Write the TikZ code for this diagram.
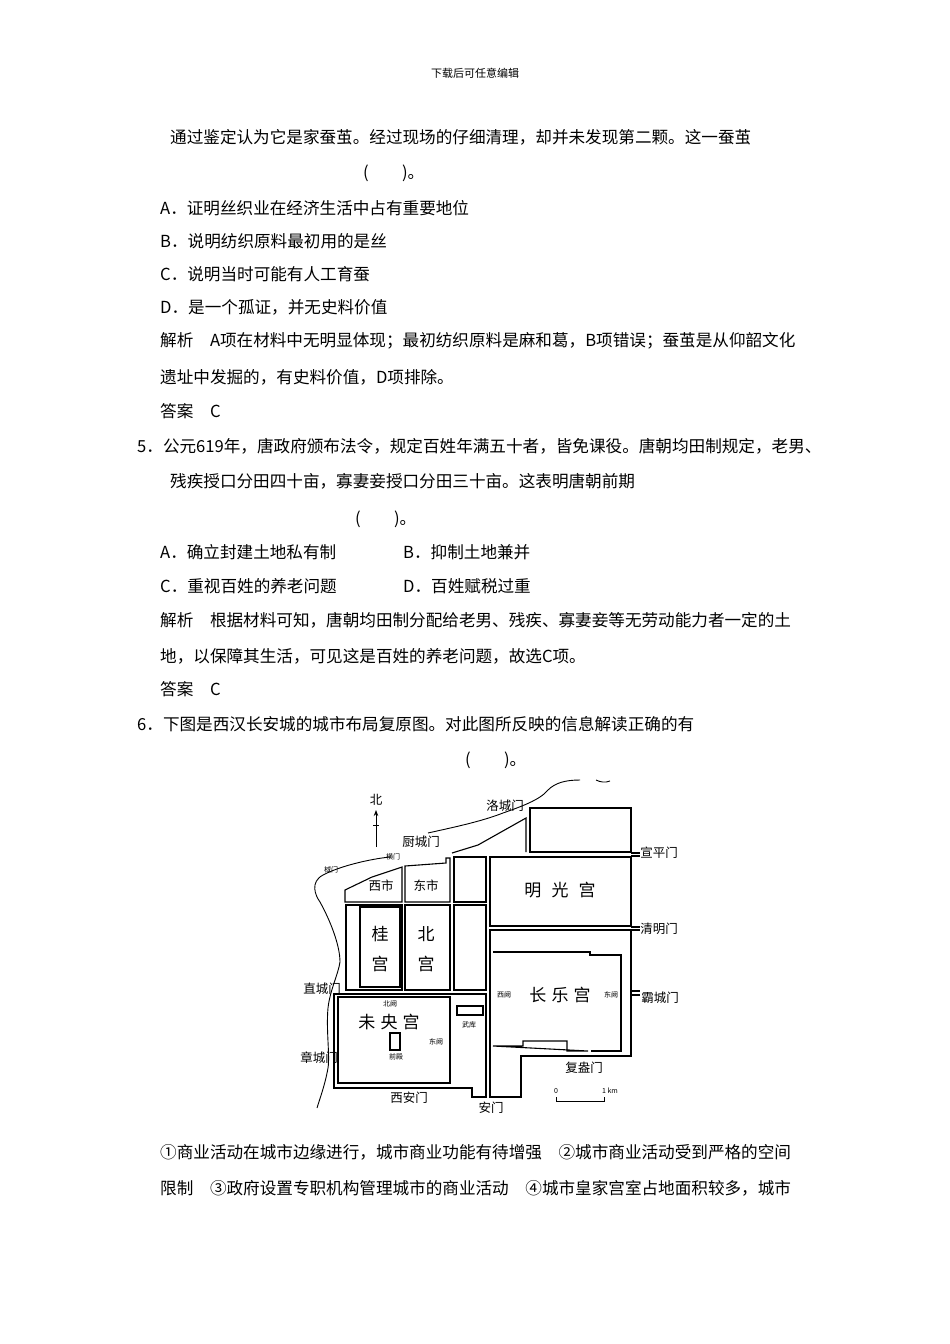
\documentclass[tikz,border=0pt]{standalone}
\usepackage{fontspec}
\usetikzlibrary{arrows.meta}
\setmainfont{Noto Sans CJK SC}
\begin{document}
\begin{tikzpicture}[x=1pt,y=-1pt,
  txt/.style={anchor=west,inner sep=0pt,font=\fontsize{16.6}{17}\selectfont},
  blk/.style={draw,line width=1.1pt},
  lab/.style={inner sep=0pt,font=\fontsize{12.5}{12}\selectfont},
  sml/.style={inner sep=0pt,font=\fontsize{7}{7}\selectfont},
  big/.style={inner sep=0pt,font=\fontsize{17}{17}\selectfont},
  river/.style={draw,line width=0.9pt}]
\useasboundingbox[fill=white] (0,0) rectangle (950,1344);
\node[inner sep=0pt,font=\fontsize{11}{11}\selectfont] (hdr) at (475,73) {下载后可任意编辑};
\node[txt] (l1) at (170,137) {通过鉴定认为它是家蚕茧。经过现场的仔细清理，却并未发现第二颗。这一蚕茧};
\node[txt] (l2) at (363,173) {(　　)。};
\node[txt] (l3) at (160,208) {A．证明丝织业在经济生活中占有重要地位};
\node[txt] (l4) at (160,241) {B．说明纺织原料最初用的是丝};
\node[txt] (l5) at (160,274) {C．说明当时可能有人工育蚕};
\node[txt] (l6) at (160,307) {D．是一个孤证，并无史料价值};
\node[txt] (l7) at (160,341) {解析　A项在材料中无明显体现；最初纺织原料是麻和葛，B项错误；蚕茧是从仰韶文化};
\node[txt] (l8) at (160,377) {遗址中发掘的，有史料价值，D项排除。};
\node[txt] (l9) at (160,411) {答案　C};
\node[txt] (l10) at (137,446) {5．公元619年，唐政府颁布法令，规定百姓年满五十者，皆免课役。唐朝均田制规定，老男、};
\node[txt] (l11) at (170,481) {残疾授口分田四十亩，寡妻妾授口分田三十亩。这表明唐朝前期};
\node[txt] (l12) at (355,519) {(　　)。};
\node[txt] (l13) at (160,552) {A．确立封建土地私有制};
\node[txt] (l13b) at (403,552) {B．抑制土地兼并};
\node[txt] (l14) at (160,586) {C．重视百姓的养老问题};
\node[txt] (l14b) at (403,586) {D．百姓赋税过重};
\node[txt] (l15) at (160,620) {解析　根据材料可知，唐朝均田制分配给老男、残疾、寡妻妾等无劳动能力者一定的土};
\node[txt] (l16) at (160,656) {地，以保障其生活，可见这是百姓的养老问题，故选C项。};
\node[txt] (l17) at (160,689) {答案　C};
\node[txt] (l18) at (137,724) {6．下图是西汉长安城的城市布局复原图。对此图所反映的信息解读正确的有};
\node[txt] (l19) at (465,760) {(　　)。};
\node[txt] (l20) at (160,1152) {①商业活动在城市边缘进行，城市商业功能有待增强　②城市商业活动受到严格的空间};
\node[txt] (l21) at (160,1188) {限制　③政府设置专职机构管理城市的商业活动　④城市皇家宫室占地面积较多，城市};
% blocks
\draw[blk] (345,902) -- (345,890) -- (372,877) -- (402,867) -- (402,902) -- cycle;
\draw[blk] (405,902) -- (405,866) -- (446,863) -- (446,858) -- (450,858) -- (450,902) -- cycle;
\draw[blk] (346,905) rectangle (402,990);
\draw[blk] (360,907) rectangle (400,987);
\draw[blk] (405,905) rectangle (450,990);
\draw[blk] (454,857) rectangle (486,902);
\draw[blk] (454,905) rectangle (486,990);
\draw[blk] (490,857) rectangle (631,926);
\draw[blk] (530,808) rectangle (631,852);
\draw[blk] (452,853) -- (478,845) -- (526,818) -- (526,852);
\draw[blk] (490,930) -- (631,930) -- (631,1056) -- (521,1056) -- (521,1097) -- (490,1097) -- cycle;
\draw[blk] (493,952) -- (590,952) -- (590,955) -- (621,955) -- (621,1051) -- (591,1051);
\draw[blk] (588,1051) -- (567,1051) -- (567,1041) -- (523,1041) -- (523,1046) -- (493,1046) -- cycle;
\draw[blk] (334,994) -- (486,994) -- (486,1097) -- (472,1097) -- (472,1088) -- (334,1088) -- cycle;
\draw[blk] (338,997) rectangle (450,1083);
\draw[blk] (457,1006) rectangle (483,1015);
\draw[blk] (390,1033) rectangle (400,1050);
\draw[blk] (631,991) -- (640,991) (631,995) -- (640,995);
\draw[blk] (631,853) -- (640,853) (631,856) -- (640,856);
\draw[blk] (631,927) -- (640,927) (631,930) -- (640,930);
% rivers
\draw[river] (390,857) .. controls (370,859) and (340,866) .. (323,875) .. controls (310,882) and (315,895) .. (320,902) .. controls (330,920) and (340,945) .. (340,962) .. controls (338,975) and (330,990) .. (328,1008) .. controls (326,1030) and (330,1055) .. (328,1068) .. controls (325,1085) and (320,1098) .. (317,1108);
\draw[river] (428,833) .. controls (450,828) and (480,822) .. (503,813) .. controls (520,807) and (540,800) .. (548,790) .. controls (555,783) and (565,780) .. (580,780);
\draw[river] (596,780) .. controls (600,782) and (605,783) .. (610,781);
% north arrow
\node[lab] (bei) at (376,800) {北};
\coordinate (na) at (376,847);
\coordinate (nb) at (376,810);
\draw[-{Stealth[length=6pt]},line width=0.8pt] (na) -- (nb);
\draw[line width=0.8pt] (373,825) -- (379,825);
% labels
\node[lab] (g1) at (505,806) {洛城门};
\node[lab] (g2) at (421,842) {厨城门};
\node[sml] (g3) at (393,857) {横门};
\node[lab] (g4) at (659,853) {宣平门};
\node[sml] (g5) at (331,870) {棫门};
\node[lab] (x1) at (381,886) {西市};
\node[lab] (x2) at (426,886) {东市};
\node[big] (p1) at (560,890) {明\hspace{0.6em}光\hspace{0.6em}宫};
\node[lab] (g6) at (659,929) {清明门};
\node[big] (p2) at (380,934) {桂};
\node[big] (p2b) at (380,964) {宫};
\node[big] (p3) at (426,934) {北};
\node[big] (p3b) at (426,964) {宫};
\node[lab] (g7) at (322,989) {直城门};
\node[sml] (s1) at (504,995) {西阙};
\node[big] (p4) at (560,995) {长\hspace{0.3em}乐\hspace{0.3em}宫};
\node[sml] (s2) at (611,995) {东阙};
\node[lab] (g8) at (660,998) {霸城门};
\node[sml] (s3) at (390,1004) {北阙};
\node[big] (p5) at (389,1022) {未\hspace{0.3em}央\hspace{0.3em}宫};
\node[sml] (s4) at (469,1025) {武库};
\node[sml] (s5) at (436,1042) {东阙};
\node[sml] (s6) at (396,1057) {前殿};
\node[lab] (g9) at (319,1058) {章城门};
\node[lab] (g10) at (584,1068) {复盎门};
\node[lab] (g11) at (409,1098) {西安门};
\node[lab] (g12) at (491,1108) {安门};
\node[sml] (z0) at (556,1091) {0};
\node[sml] (z1) at (610,1091) {1 km};
\draw[line width=0.8pt] (556,1097) -- (556,1101) -- (604,1101) -- (604,1097);
\end{tikzpicture}
\end{document}
